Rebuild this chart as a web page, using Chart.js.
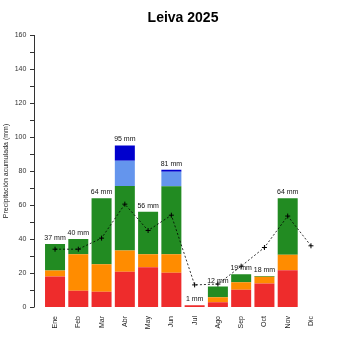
<!DOCTYPE html>
<html>
<head>
<meta charset="utf-8">
<script src="https://cdn.jsdelivr.net/npm/chart.js@4"></script>
<style>
  html, body { margin: 0; padding: 0; background: #fff; }
  #wrap { width: 350px; height: 350px; }
</style>
</head>
<body>
<div id="wrap"><canvas id="myChart" width="350" height="350"></canvas></div>
<script>
const meses = ['Ene', 'Feb', 'Mar', 'Abr', 'May', 'Jun', 'Jul', 'Ago', 'Sep', 'Oct', 'Nov', 'Dic'];

// precipitación por tramo (mm), apiladas
const rojo    = [18, 9.6, 9, 20.8, 23.4, 20.2, 1, 2.8, 10.2, 13.8, 21.6, 0];
const naranja = [3.4, 21.4, 16.2, 12.4, 7.6, 10.8, 0, 3, 4.4, 4, 9.2, 0];
const verde   = [15.6, 9, 38.8, 38, 25, 40, 0, 6.2, 4.6, 0.4, 33.2, 0];
const celeste = [0, 0, 0, 14.8, 0, 8.6, 0, 0, 0, 0, 0, 0];
const azul    = [0, 0, 0, 9, 0, 1.2, 0, 0, 0, 0, 0, 0];

// media mensual (línea discontinua)
const media = [34, 34, 40.5, 60.5, 45, 54, 13, 13.5, 24, 35, 53.5, 36];

const FONT = '"Liberation Sans", Arial, sans-serif';

// etiquetas "xx mm" sobre cada barra + eje Y separado estilo R
const extras = {
    id: 'extras',
    afterDatasetsDraw(chart) {
        const ctx = chart.ctx;
        const y = chart.scales.y;
        const meta = chart.getDatasetMeta(0);
        ctx.save();
        ctx.font = '7px ' + FONT;
        ctx.fillStyle = '#111';
        ctx.textAlign = 'center';
        ctx.textBaseline = 'bottom';
        meses.forEach((m, i) => {
            const total = rojo[i] + naranja[i] + verde[i] + celeste[i] + azul[i];
            if (total <= 0) return;
            const x = meta.data[i].x;
            ctx.fillText(Math.round(total) + ' mm', x, y.getPixelForValue(total) - 2.5);
        });

        // eje Y
        const ax = 34.5;
        ctx.strokeStyle = '#333';
        ctx.lineWidth = 1;
        ctx.beginPath();
        ctx.moveTo(ax, y.getPixelForValue(0));
        ctx.lineTo(ax, y.getPixelForValue(160));
        for (let v = 0; v <= 160; v += 10) {
            const py = Math.round(y.getPixelForValue(v)) + 0.5;
            ctx.moveTo(ax, py);
            ctx.lineTo(ax - 4.5, py);
        }
        ctx.stroke();
        ctx.restore();
    }
};

const barra = (data, color) => ({
    type: 'bar',
    data: data,
    backgroundColor: color,
    borderWidth: 0,
    stack: 'pp',
    order: 1,
    categoryPercentage: 1,
    barPercentage: 0.86
});

new Chart(document.getElementById('myChart').getContext('2d'), {
    data: {
        labels: meses,
        datasets: [
            barra(rojo, '#EE2C2C'),
            barra(naranja, '#FF8C00'),
            barra(verde, '#228B22'),
            barra(celeste, '#6495ED'),
            barra(azul, '#0000CD'),
            {
                type: 'line',
                data: media,
                stack: 'media',
                order: 0,
                borderColor: '#000',
                borderWidth: 0.8,
                borderDash: [2, 2],
                pointStyle: 'cross',
                pointRadius: 2.5,
                pointBorderColor: '#000',
                pointBorderWidth: 1,
                fill: false,
                tension: 0
            }
        ]
    },
    options: {
        responsive: false,
        animation: false,
        layout: { padding: { left: 0, right: 27.4, top: 0, bottom: 0 } },
        scales: {
            x: {
                stacked: true,
                grid: { display: false },
                border: { display: false },
                ticks: {
                    minRotation: 90,
                    maxRotation: 90,
                    padding: 1,
                    color: '#222',
                    font: { family: FONT, size: 7 }
                },
                afterFit(scale) { scale.height = 43; }
            },
            y: {
                stacked: true,
                min: 0,
                max: 160,
                grid: { display: false },
                border: { display: false },
                ticks: {
                    stepSize: 10,
                    autoSkip: false,
                    padding: 9,
                    color: '#333',
                    font: { family: FONT, size: 7 },
                    callback: v => (v % 20 === 0 ? v : '')
                },
                title: {
                    display: true,
                    text: 'Precipitación acumulada (mm)',
                    color: '#222',
                    font: { family: FONT, size: 7 },
                    padding: { top: 2, bottom: 0 }
                },
                afterFit(scale) { scale.width = 43.4; }
            }
        },
        plugins: {
            legend: { display: false },
            tooltip: { enabled: false },
            title: {
                display: true,
                text: 'Leiva 2025',
                fullSize: false,
                color: '#000',
                font: { family: FONT, size: 14, weight: 'bold' },
                padding: { top: 9.6, bottom: 8.6 }
            }
        }
    },
    plugins: [extras]
});
</script>
</body>
</html>
